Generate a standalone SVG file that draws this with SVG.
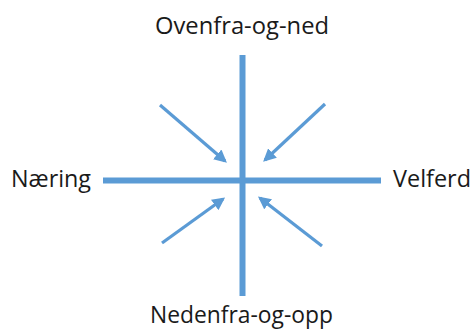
<svg xmlns="http://www.w3.org/2000/svg" width="475" height="331" viewBox="0 0 475 331">
<style>
.lbl{font-family:"Open Sans","Liberation Sans",sans-serif;font-size:23px;fill:#1a1a1a}
.axis{stroke:#5B9BD5;stroke-width:6;fill:none}
.arr{stroke:#5B9BD5;stroke-width:3.2;fill:none;marker-end:url(#ah)}
</style>
<defs>
<marker id="ah" viewBox="0 0 10 10" refX="8" refY="5" markerWidth="4" markerHeight="4" orient="auto" markerUnits="strokeWidth">
<path d="M0,0 L10,5 L0,10 z" fill="#5B9BD5"/>
</marker>
</defs>
<g id="axes">
<line class="axis" x1="242.5" y1="55" x2="242.5" y2="296"/>
<line class="axis" x1="103" y1="180.5" x2="381" y2="180.5"/>
</g>
<g id="connectors">
<line class="arr" x1="160" y1="105" x2="225" y2="161"/>
<line class="arr" x1="325" y1="104" x2="265" y2="160"/>
<line class="arr" x1="162" y1="243" x2="223" y2="199"/>
<line class="arr" x1="322" y1="246" x2="260" y2="198"/>
</g>
<g id="top"><text class="lbl" x="155" y="34" textLength="174" lengthAdjust="spacingAndGlyphs">Ovenfra-og-ned</text></g>
<g id="left"><text class="lbl" x="11" y="187" textLength="80" lengthAdjust="spacingAndGlyphs">Næring</text></g>
<g id="right"><text class="lbl" x="393" y="187" textLength="78" lengthAdjust="spacingAndGlyphs">Velferd</text></g>
<g id="bottom"><text class="lbl" x="150" y="323" textLength="183" lengthAdjust="spacingAndGlyphs">Nedenfra-og-opp</text></g>
</svg>
